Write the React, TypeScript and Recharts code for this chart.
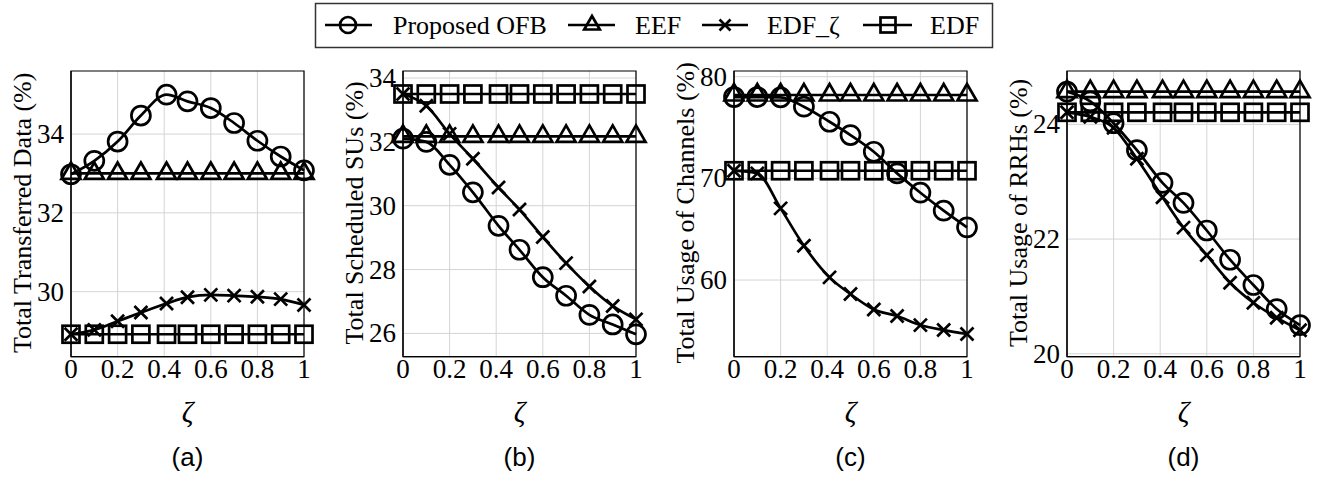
import React from "react";
import { LineChart, Line, XAxis, YAxis, CartesianGrid, ReferenceArea } from "recharts";

const zeta = [0, 0.1, 0.2, 0.3, 0.41, 0.5, 0.6, 0.7, 0.8, 0.9, 1];
const xTicks = [0, 0.2, 0.4, 0.6, 0.8, 1];
const seriesNames = ["Proposed OFB", "EEF", "EDF_ζ", "EDF"];

// (a) Total Transferred Data
const ofbA = [32.98, 33.32, 33.81, 34.47, 35.0, 34.83, 34.66, 34.28, 33.83, 33.43, 33.08];
const eefA = [33.0, 33.0, 33.0, 33.0, 33.0, 33.0, 33.0, 33.0, 33.0, 33.0, 33.0];
const edfzA = [28.92, 29.03, 29.25, 29.47, 29.7, 29.86, 29.92, 29.9, 29.87, 29.81, 29.66];
const edfA = [28.92, 28.92, 28.92, 28.92, 28.92, 28.92, 28.92, 28.92, 28.92, 28.92, 28.92];

// (b) Total Scheduled SUs
const ofbB = [32.1, 32.0, 31.28, 30.42, 29.37, 28.62, 27.76, 27.18, 26.58, 26.28, 25.97];
const eefB = [32.17, 32.17, 32.17, 32.17, 32.17, 32.17, 32.17, 32.17, 32.17, 32.17, 32.17];
const edfzB = [33.5, 33.13, 32.25, 31.47, 30.57, 29.88, 29.02, 28.2, 27.47, 26.86, 26.44];
const edfB = [33.5, 33.5, 33.5, 33.5, 33.5, 33.5, 33.5, 33.5, 33.5, 33.5, 33.5];

// (c) Total Usage of Channels
const ofbC = [78.0, 78.0, 77.97, 77.05, 75.57, 74.26, 72.62, 70.49, 68.59, 66.82, 65.18];
const eefC = [78.2, 78.2, 78.2, 78.2, 78.2, 78.2, 78.2, 78.2, 78.2, 78.2, 78.2];
const edfzC = [70.75, 70.49, 67.05, 63.38, 60.26, 58.62, 57.11, 56.46, 55.57, 55.08, 54.69];
const edfC = [70.75, 70.75, 70.75, 70.75, 70.75, 70.75, 70.75, 70.75, 70.75, 70.75, 70.75];

// (d) Total Usage of RRHs
const ofbD = [24.57, 24.4, 24.02, 23.55, 22.98, 22.63, 22.15, 21.64, 21.2, 20.78, 20.5];
const eefD = [24.57, 24.57, 24.57, 24.57, 24.57, 24.57, 24.57, 24.57, 24.57, 24.57, 24.57];
const edfzD = [24.21, 24.13, 23.94, 23.4, 22.73, 22.2, 21.72, 21.24, 20.89, 20.63, 20.41];
const edfD = [24.21, 24.21, 24.21, 24.21, 24.21, 24.21, 24.21, 24.21, 24.21, 24.21, 24.21];

const yLabels = [
  "Total Transferred Data (%)",
  "Total Scheduled SUs (%)",
  "Total Usage of Channels (%)",
  "Total Usage of RRHs (%)",
];
const panelTags = ["(a)", "(b)", "(c)", "(d)"];
const yTicksList = [
  [30, 32, 34],
  [26, 28, 30, 32, 34],
  [60, 70, 80],
  [20, 22, 24],
];
const yDomains: [number, number][] = [
  [28.35, 35.6],
  [25.27, 34.22],
  [52.46, 80.56],
  [19.95, 24.93],
];

const build = (o: number[], e: number[], z: number[], d: number[]) =>
  zeta.map((x, i) => ({ x, ofb: o[i], eef: e[i], edfz: z[i], edf: d[i] }));

const panels = [
  build(ofbA, eefA, edfzA, edfA),
  build(ofbB, eefB, edfzB, edfB),
  build(ofbC, eefC, edfzC, edfC),
  build(ofbD, eefD, edfzD, edfD),
];

const plotLefts = [70.7, 403.3, 734, 1067.3];
const PW = 233;
const YW = 71;
const TOP = 71;
const H = 481;
const PH = 285.7;

const SERIF = "Liberation Serif";
const SANS = "Liberation Sans";
const SW = 2.7;

const XTick = (p: any) => (
  <text x={p.x} y={p.y + 21} textAnchor="middle" fontFamily={SERIF} fontSize={27} fill="#000">
    {String(p.payload.value)}
  </text>
);
const YTick = (p: any) => (
  <text x={p.x} y={p.y + 9} textAnchor="end" fontFamily={SERIF} fontSize={27} fill="#000">
    {String(p.payload.value)}
  </text>
);

const mkCircle = (r: number) => (p: any) => {
  if (p.cx == null || p.cy == null) return <g key={`c${p.index}`} />;
  return <circle key={`c${p.index}`} cx={p.cx} cy={p.cy} r={r} fill="none" stroke="#000" strokeWidth={SW} />;
};
const mkTri = (r: number) => (p: any) => {
  if (p.cx == null || p.cy == null) return <g key={`t${p.index}`} />;
  const { cx, cy } = p;
  const pts = `${cx},${cy - r} ${cx - 0.866 * r},${cy + 0.5 * r} ${cx + 0.866 * r},${cy + 0.5 * r}`;
  return <polygon key={`t${p.index}`} points={pts} fill="none" stroke="#000" strokeWidth={SW} strokeLinejoin="miter" />;
};
const mkCross = (r: number) => (p: any) => {
  if (p.cx == null || p.cy == null) return <g key={`x${p.index}`} />;
  const { cx, cy } = p;
  return (
    <path
      key={`x${p.index}`}
      d={`M${cx - r},${cy - r}L${cx + r},${cy + r}M${cx - r},${cy + r}L${cx + r},${cy - r}`}
      stroke="#000"
      strokeWidth={SW}
      fill="none"
    />
  );
};
const mkSquare = (r: number) => (p: any) => {
  if (p.cx == null || p.cy == null) return <g key={`s${p.index}`} />;
  return (
    <rect key={`s${p.index}`} x={p.cx - r} y={p.cy - r} width={2 * r} height={2 * r} fill="none" stroke="#000" strokeWidth={SW} />
  );
};

const Panel = ({ idx }: { idx: number }) => {
  const data = panels[idx];
  const [y0, y1] = yDomains[idx];
  const chartW = YW + PW + 20;
  return (
    <div style={{ position: "absolute", left: plotLefts[idx] - YW, top: 0, width: chartW, height: H }}>
      <LineChart width={chartW} height={H} data={data} margin={{ top: TOP, right: 20, left: 0, bottom: 0 }}>
        <CartesianGrid stroke="#d4d4d4" strokeWidth={1} verticalValues={xTicks} horizontalValues={yTicksList[idx]} />
        <XAxis
          dataKey="x"
          type="number"
          domain={[0, 1]}
          ticks={xTicks}
          height={H - TOP - PH}
          axisLine={{ stroke: "#000", strokeWidth: 1.2 }}
          tickLine={false}
          tickSize={0}
          tickMargin={0}
          tick={<XTick />}
          interval={0}
          label={{
            value: "ζ",
            content: (p: any) => {
              const vb = p.viewBox || {};
              const cx = vb.x + vb.width / 2;
              return (
                <g>
                  <text x={cx} y={vb.y + 65} textAnchor="middle" fontFamily={SERIF} fontStyle="italic" fontSize={29} fill="#000">
                    ζ
                  </text>
                  <text x={cx} y={vb.y + 109} textAnchor="middle" fontFamily={SANS} fontSize={26} fill="#000">
                    {panelTags[idx]}
                  </text>
                </g>
              );
            },
          }}
        />
        <YAxis
          type="number"
          domain={[y0, y1]}
          ticks={yTicksList[idx]}
          width={YW}
          axisLine={{ stroke: "#000", strokeWidth: 1.2 }}
          tickLine={false}
          tickSize={0}
          tickMargin={7}
          tick={<YTick />}
          interval={0}
          label={{
            value: yLabels[idx],
            content: (p: any) => {
              const vb = p.viewBox || {};
              const x = vb.x + vb.width - 40;
              const y = vb.y + vb.height / 2 - 1;
              return (
                <text
                  x={x}
                  y={y}
                  transform={`rotate(-90 ${x} ${y})`}
                  textAnchor="middle"
                  fontFamily={SERIF}
                  fontSize={26}
                  fill="#000"
                >
                  {yLabels[idx]}
                </text>
              );
            },
          }}
        />
        <ReferenceArea x1={0} x2={1} y1={y0} y2={y1} fill="none" stroke="#000" strokeWidth={1.2} ifOverflow="visible" />
        <Line dataKey="ofb" name={seriesNames[0]} type="monotone" stroke="#000" strokeWidth={SW} dot={mkCircle(9.5)} activeDot={false} isAnimationActive={false} />
        <Line dataKey="eef" name={seriesNames[1]} type="monotone" stroke="#000" strokeWidth={SW} dot={mkTri(11)} activeDot={false} isAnimationActive={false} />
        <Line dataKey="edfz" name={seriesNames[2]} type="monotone" stroke="#000" strokeWidth={SW} dot={mkCross(6.5)} activeDot={false} isAnimationActive={false} />
        <Line dataKey="edf" name={seriesNames[3]} type="monotone" stroke="#000" strokeWidth={SW} dot={mkSquare(8.5)} activeDot={false} isAnimationActive={false} />
      </LineChart>
    </div>
  );
};

const legendItems = [
  { name: seriesNames[0], x1: 325, x2: 372, mx: 348, tx: 393, kind: "circle" },
  { name: seriesNames[1], x1: 568, x2: 615, mx: 592, tx: 635, kind: "tri" },
  { name: seriesNames[2], x1: 702, x2: 748, mx: 725, tx: 767, kind: "cross" },
  { name: seriesNames[3], x1: 863, x2: 912, mx: 888, tx: 930, kind: "square" },
];

const LegendBox = () => {
  const ly = 25;
  return (
    <svg width={1323} height={52} style={{ position: "absolute", left: 0, top: 0 }}>
      <rect x={315.5} y={3.5} width={677} height={44} fill="#fff" stroke="#333" strokeWidth={1.5} />
      {legendItems.map((it) => (
        <g key={it.name}>
          <line x1={it.x1} y1={ly} x2={it.x2} y2={ly} stroke="#000" strokeWidth={2.7} />
          {it.kind === "circle" && <circle cx={it.mx} cy={ly} r={8} fill="none" stroke="#000" strokeWidth={2.7} />}
          {it.kind === "tri" && (
            <polygon
              points={`${it.mx},${ly - 9} ${it.mx - 7.8},${ly + 4.5} ${it.mx + 7.8},${ly + 4.5}`}
              fill="none"
              stroke="#000"
              strokeWidth={2.7}
            />
          )}
          {it.kind === "cross" && (
            <path
              d={`M${it.mx - 5.5},${ly - 5.5}L${it.mx + 5.5},${ly + 5.5}M${it.mx - 5.5},${ly + 5.5}L${it.mx + 5.5},${ly - 5.5}`}
              stroke="#000"
              strokeWidth={2.7}
            />
          )}
          {it.kind === "square" && <rect x={it.mx - 7.5} y={ly - 7.5} width={15} height={15} fill="none" stroke="#000" strokeWidth={2.7} />}
          <text x={it.tx} y={ly + 9} fontFamily={SERIF} fontSize={26} fill="#000">
            {it.name}
          </text>
        </g>
      ))}
    </svg>
  );
};

export default function App() {
  return (
    <div style={{ position: "absolute", left: 0, top: 0, width: 1323, height: 481, background: "#fff", overflow: "hidden" }}>
      {[0, 1, 2, 3].map((i) => (
        <Panel key={i} idx={i} />
      ))}
      <LegendBox />
    </div>
  );
}
